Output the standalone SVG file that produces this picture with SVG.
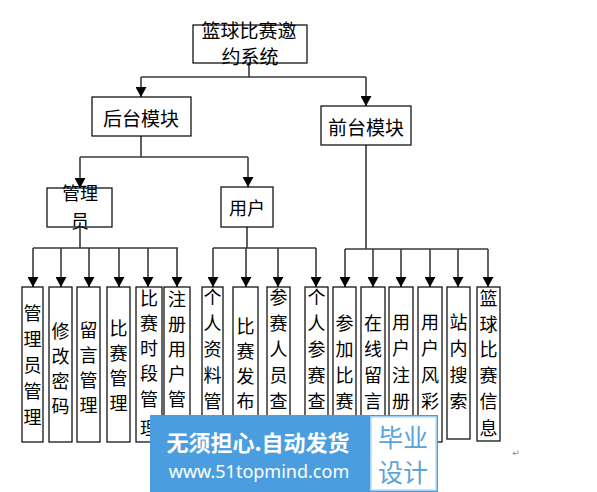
<svg xmlns="http://www.w3.org/2000/svg" width="597" height="492" viewBox="0 0 597 492">
<style>
.box{fill:#fff;stroke:#000;stroke-width:1.2}
.t{font-family:"Noto Sans CJK SC","Liberation Serif",serif;font-size:18px;fill:#000;text-anchor:middle;dominant-baseline:central}
.tb{font-size:19px}
.c{fill:none;stroke:#3a3a3a;stroke-width:1.6}
</style>
<defs>
<marker id="ah" viewBox="0 0 10 11" refX="10" refY="5.5" markerWidth="11" markerHeight="11" orient="auto" markerUnits="userSpaceOnUse">
<path d="M0,0 L10,5.5 L0,11 z" fill="#000"/>
</marker>
</defs>
<rect width="597" height="492" fill="#fff"/>
<g id="connectors">
<path class="c" d="M249,63 V77 M141,77 H366"/>
<path class="c" d="M141,77 V97" marker-end="url(#ah)"/>
<path class="c" d="M366,77 V106" marker-end="url(#ah)"/>
<path class="c" d="M141,136 V157 M80,157 H248"/>
<path class="c" d="M80,157 V188" marker-end="url(#ah)"/>
<path class="c" d="M248,157 V187" marker-end="url(#ah)"/>
<path class="c" d="M80,227 V248 M33,248 H178"/>
<path class="c" d="M33,248 V287" marker-end="url(#ah)"/>
<path class="c" d="M61,248 V287" marker-end="url(#ah)"/>
<path class="c" d="M89,248 V287" marker-end="url(#ah)"/>
<path class="c" d="M119,248 V287" marker-end="url(#ah)"/>
<path class="c" d="M148,248 V287" marker-end="url(#ah)"/>
<path class="c" d="M177,248 V287" marker-end="url(#ah)"/>
<path class="c" d="M247,227 V248 M213,248 H316"/>
<path class="c" d="M213,248 V287" marker-end="url(#ah)"/>
<path class="c" d="M246,248 V287" marker-end="url(#ah)"/>
<path class="c" d="M278,248 V287" marker-end="url(#ah)"/>
<path class="c" d="M316,248 V287" marker-end="url(#ah)"/>
<path class="c" d="M366,145 V249 M345,249 H488"/>
<path class="c" d="M345,249 V287" marker-end="url(#ah)"/>
<path class="c" d="M373,249 V287" marker-end="url(#ah)"/>
<path class="c" d="M401,249 V287" marker-end="url(#ah)"/>
<path class="c" d="M430,249 V287" marker-end="url(#ah)"/>
<path class="c" d="M458,249 V287" marker-end="url(#ah)"/>
<path class="c" d="M488,249 V287" marker-end="url(#ah)"/>
</g>
<g id="root">
<rect class="box" x="193" y="25" width="114" height="38"/>
<text class="t tb" x="249" y="29">篮球比赛邀</text>
<text class="t tb" x="250" y="55">约系统</text>
</g>
<g id="backend">
<rect class="box" x="92" y="97" width="99" height="39"/>
<text class="t tb" x="141" y="117">后台模块</text>
</g>
<g id="frontend">
<rect class="box" x="321" y="106" width="90" height="39"/>
<text class="t tb" x="366" y="126">前台模块</text>
</g>
<g id="admin">
<rect class="box" x="47" y="188" width="65" height="39"/>
<text class="t" x="80" y="192">管理</text>
<text class="t" x="80" y="220">员</text>
</g>
<g id="user">
<rect class="box" x="221" y="187" width="52" height="40"/>
<text class="t" x="247" y="207">用户</text>
</g>
<g id="n-glygl">
<rect class="box" x="22" y="287" width="21" height="155"/>
<text class="t" x="32.5" y="312">管</text><text class="t" x="32.5" y="338">理</text><text class="t" x="32.5" y="364">员</text><text class="t" x="32.5" y="390">管</text><text class="t" x="32.5" y="416">理</text>
</g>
<g id="n-xgmm">
<rect class="box" x="49" y="287" width="23" height="155"/>
<text class="t" x="60.5" y="330">修</text><text class="t" x="60.5" y="355">改</text><text class="t" x="60.5" y="380">密</text><text class="t" x="60.5" y="405">码</text>
</g>
<g id="n-lygl">
<rect class="box" x="77" y="287" width="23" height="155"/>
<text class="t" x="88.5" y="329">留</text><text class="t" x="88.5" y="354">言</text><text class="t" x="88.5" y="379">管</text><text class="t" x="88.5" y="404">理</text>
</g>
<g id="n-bsgl">
<rect class="box" x="107" y="287" width="23" height="155"/>
<text class="t" x="118.5" y="327">比</text><text class="t" x="118.5" y="352">赛</text><text class="t" x="118.5" y="377">管</text><text class="t" x="118.5" y="402">理</text>
</g>
<g id="n-bssdgl">
<rect class="box" x="136" y="287" width="26" height="155"/>
<text class="t" x="149" y="297">比</text><text class="t" x="149" y="322">赛</text><text class="t" x="149" y="347">时</text><text class="t" x="149" y="372">段</text><text class="t" x="149" y="398">管</text><text class="t" x="149" y="427">理</text>
</g>
<g id="n-zcyhgl">
<rect class="box" x="164" y="287" width="26" height="155"/>
<text class="t" x="177" y="298">注</text><text class="t" x="177" y="323">册</text><text class="t" x="177" y="348">用</text><text class="t" x="177" y="373">户</text><text class="t" x="177" y="398">管</text>
</g>
<g id="n-grzl">
<rect class="box" x="202" y="287" width="21" height="155"/>
<text class="t" x="212.5" y="296">个</text><text class="t" x="212.5" y="322">人</text><text class="t" x="212.5" y="348">资</text><text class="t" x="212.5" y="374">料</text><text class="t" x="212.5" y="400">管</text>
</g>
<g id="n-bsfb">
<rect class="box" x="233" y="287" width="25" height="155"/>
<text class="t" x="245.5" y="325">比</text><text class="t" x="245.5" y="350">赛</text><text class="t" x="245.5" y="375">发</text><text class="t" x="245.5" y="400">布</text>
</g>
<g id="n-csrycx">
<rect class="box" x="267" y="287" width="23" height="155"/>
<text class="t" x="278.5" y="296">参</text><text class="t" x="278.5" y="322">赛</text><text class="t" x="278.5" y="348">人</text><text class="t" x="278.5" y="374">员</text><text class="t" x="278.5" y="400">查</text>
</g>
<g id="n-grcscx">
<rect class="box" x="305" y="287" width="23" height="155"/>
<text class="t" x="316.5" y="296">个</text><text class="t" x="316.5" y="322">人</text><text class="t" x="316.5" y="348">参</text><text class="t" x="316.5" y="374">赛</text><text class="t" x="316.5" y="400">查</text>
</g>
<g id="n-cjbs">
<rect class="box" x="333" y="287" width="23" height="155"/>
<text class="t" x="344.5" y="322">参</text><text class="t" x="344.5" y="348">加</text><text class="t" x="344.5" y="374">比</text><text class="t" x="344.5" y="400">赛</text>
</g>
<g id="n-zxly">
<rect class="box" x="361" y="287" width="24" height="155"/>
<text class="t" x="373" y="322">在</text><text class="t" x="373" y="348">线</text><text class="t" x="373" y="374">留</text><text class="t" x="373" y="400">言</text>
</g>
<g id="n-yhzc">
<rect class="box" x="389" y="287" width="24" height="155"/>
<text class="t" x="401" y="321">用</text><text class="t" x="401" y="347">户</text><text class="t" x="401" y="374">注</text><text class="t" x="401" y="400">册</text>
</g>
<g id="n-yhfc">
<rect class="box" x="418" y="287" width="24" height="155"/>
<text class="t" x="430" y="321">用</text><text class="t" x="430" y="347">户</text><text class="t" x="430" y="374">风</text><text class="t" x="430" y="400">彩</text>
</g>
<g id="n-znss">
<rect class="box" x="447" y="287" width="23" height="152"/>
<text class="t" x="458.5" y="321">站</text><text class="t" x="458.5" y="347">内</text><text class="t" x="458.5" y="374">搜</text><text class="t" x="458.5" y="400">索</text>
</g>
<g id="n-lqbsxx">
<rect class="box" x="477" y="287" width="23" height="154"/>
<text class="t" x="488.5" y="297">篮</text><text class="t" x="488.5" y="323">球</text><text class="t" x="488.5" y="348">比</text><text class="t" x="488.5" y="374">赛</text><text class="t" x="488.5" y="400">信</text><text class="t" x="488.5" y="427">息</text>
</g>
<text x="516" y="456" font-family="DejaVu Sans, sans-serif" font-size="9" fill="#888" text-anchor="middle">↵</text>
<g id="watermark">
<rect x="150" y="415" width="288" height="77" fill="#4a9ee0"/>
<rect x="371" y="417" width="65" height="73" fill="#fff" stroke="#bfe0f5" stroke-width="1.5"/>
<text x="258" y="441" font-family="Noto Sans CJK SC, sans-serif" font-size="22" font-weight="bold" fill="#fff" text-anchor="middle" dominant-baseline="central">无须担心.自动发货</text>
<text x="259" y="471" font-family="Noto Sans, sans-serif" font-size="18" fill="#fff" text-anchor="middle" dominant-baseline="central">www.51topmind.com</text>
<text x="403" y="436" font-family="Noto Sans CJK SC, sans-serif" font-size="25" fill="#5aa3dc" text-anchor="middle" dominant-baseline="central">毕业</text>
<text x="403" y="471" font-family="Noto Sans CJK SC, sans-serif" font-size="25" fill="#5aa3dc" text-anchor="middle" dominant-baseline="central">设计</text>
</g>
</svg>
